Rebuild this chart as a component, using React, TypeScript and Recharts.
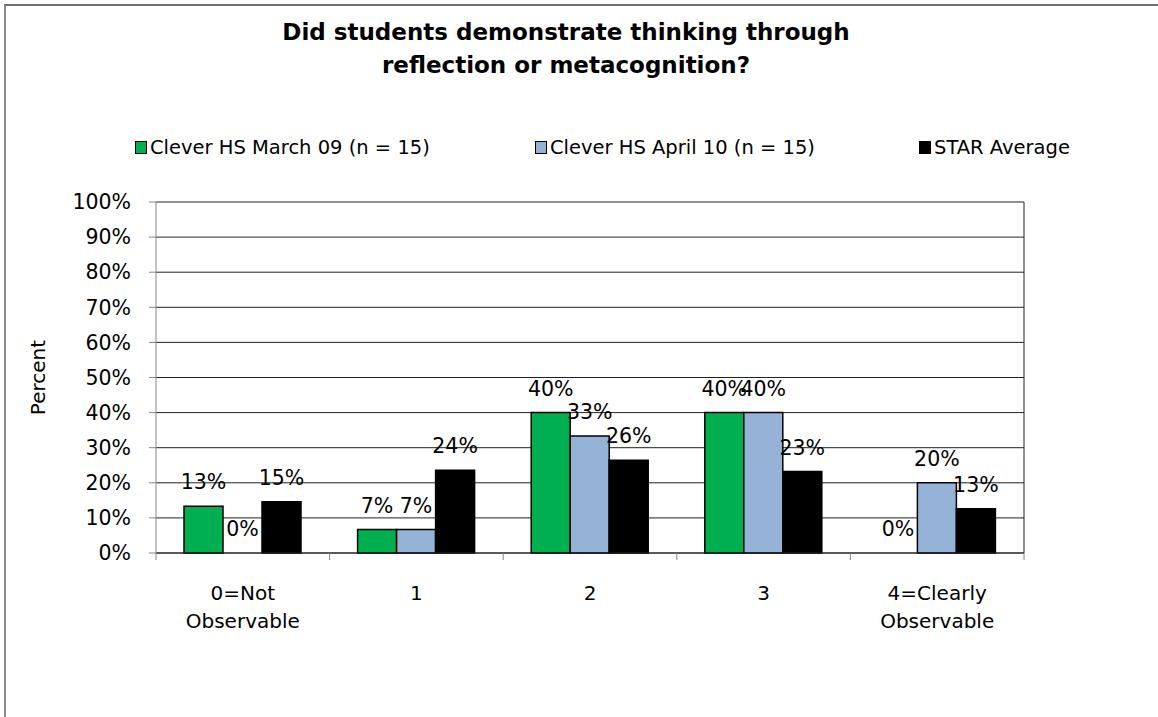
import { BarChart, Bar, XAxis, YAxis, CartesianGrid, LabelList, Legend, Cell } from 'recharts';

const categories = ['0=Not\nObservable', '1', '2', '3', '4=Clearly\nObservable'];
const march09 = [13.33, 6.67, 40, 40, 0];
const april10 = [0, 6.67, 33.33, 40, 20];
const starAverage = [14.6, 23.6, 26.4, 23.2, 12.6];
const yTicks = [0, 10, 20, 30, 40, 50, 60, 70, 80, 90, 100];

const seriesKeys = ['march09', 'april10', 'star'];
const seriesNames = ['Clever HS March 09 (n = 15)', 'Clever HS April 10 (n = 15)', 'STAR Average'];
const COLORS = ['#00b050', '#95b3d7', '#000000'];

const FONT = '"DejaVu Sans", Verdana, sans-serif';

const data = categories.map((name, i) => ({
  name,
  march09: march09[i],
  april10: april10[i],
  star: starAverage[i],
}));

// where each legend item starts, left to right
const legendLeft = [135, 535, 919];

function CategoryTick(props: any) {
  const { x, y, payload, index } = props;
  const half = payload?.offset || 86.8;
  const lines = String(payload.value).split('\n');
  return (
    <g>
      <line x1={x - half} x2={x - half} y1={y} y2={y + 7} stroke="#868686" />
      {index === categories.length - 1 && (
        <line x1={x + half} x2={x + half} y1={y} y2={y + 7} stroke="#868686" />
      )}
      {lines.map((l, i) => (
        <text
          key={i}
          x={x}
          y={y + 47 + i * 28}
          textAnchor="middle"
          fontFamily={FONT}
          fontSize={20}
          fill="#000"
        >
          {l}
        </text>
      ))}
    </g>
  );
}

function LegendBox() {
  return (
    <div style={{ position: 'relative', width: 1158, height: 22 }}>
      {seriesNames.map((n, i) => (
        <div
          key={n}
          style={{
            position: 'absolute',
            left: legendLeft[i],
            top: 0,
            display: 'flex',
            alignItems: 'center',
            fontFamily: FONT,
            fontSize: 19.5,
            color: '#000',
            whiteSpace: 'nowrap',
          }}
        >
          <span
            style={{
              display: 'inline-block',
              width: 10,
              height: 11,
              background: COLORS[i],
              border: '1.5px solid #000',
              marginRight: 3,
            }}
          />
          {n}
        </div>
      ))}
    </div>
  );
}

export default function App() {
  return (
    <div
      style={{
        position: 'absolute',
        left: 0,
        top: 0,
        width: 1158,
        height: 717,
        overflow: 'hidden',
        background: '#fff',
      }}
    >
      <div
        style={{
          position: 'absolute',
          left: 4,
          top: 4,
          width: 1300,
          height: 900,
          borderTop: '2px solid #6f6f6f',
          borderLeft: '2px solid #8a8a8a',
        }}
      />
      <div
        style={{
          position: 'absolute',
          left: 0,
          top: 16,
          width: 1132,
          textAlign: 'center',
          fontFamily: FONT,
          fontWeight: 'bold',
          fontSize: 23,
          lineHeight: '33px',
          color: '#000',
        }}
      >
        Did students demonstrate thinking through
        <br />
        reflection or metacognition?
      </div>
      <BarChart
        width={1158}
        height={717}
        data={data}
        margin={{ top: 202, right: 134, left: 0, bottom: 84 }}
        barSize={39}
        barGap={0}
        style={{ position: 'absolute', left: 0, top: 0 }}
      >
        <CartesianGrid
          stroke="#222"
          vertical={true}
          verticalCoordinatesGenerator={({ offset }: any) => [offset.left + offset.width]}
        />
        <XAxis
          dataKey="name"
          height={80}
          tickLine={false}
          tickSize={0}
          tickMargin={0}
          axisLine={{ stroke: '#222' }}
          interval={0}
          tick={<CategoryTick />}
        />
        <YAxis
          width={156}
          domain={[0, 100]}
          ticks={yTicks}
          interval={0}
          tickSize={7}
          tickMargin={18}
          axisLine={{ stroke: '#868686' }}
          tickLine={{ stroke: '#868686' }}
          tickFormatter={(v: number) => `${v}%`}
          tick={{ fontFamily: FONT, fontSize: 20.5, fill: '#000' }}
          label={{
            content: ({ viewBox }: any) => (
              <text
                x={38}
                y={viewBox.y + viewBox.height / 2}
                transform={`rotate(-90 38 ${viewBox.y + viewBox.height / 2})`}
                textAnchor="middle"
                dominantBaseline="central"
                fontFamily={FONT}
                fontSize={20}
                fill="#000"
              >
                Percent
              </text>
            ),
          }}
        />
        <Legend
          verticalAlign="middle"
          align="center"
          wrapperStyle={{ top: 136, left: 0, width: 1158 }}
          content={() => <LegendBox />}
        />
        {seriesKeys.map((k, i) => (
          <Bar
            key={k}
            dataKey={k}
            name={seriesNames[i]}
            fill={COLORS[i]}
            stroke="#000"
            strokeWidth={1.5}
            minPointSize={0.01}
            isAnimationActive={false}
          >
            {data.map((d: any, j) => (
              <Cell
                key={j}
                fill={d[k] === 0 ? 'none' : COLORS[i]}
                stroke={d[k] === 0 ? 'none' : '#000'}
              />
            ))}
            <LabelList
              dataKey={k}
              position="top"
              offset={17}
              formatter={(v: any) => `${Math.round(Number(v))}%`}
              style={{ fontFamily: FONT, fontSize: 20.5, fill: '#000' }}
            />
          </Bar>
        ))}
      </BarChart>
    </div>
  );
}
